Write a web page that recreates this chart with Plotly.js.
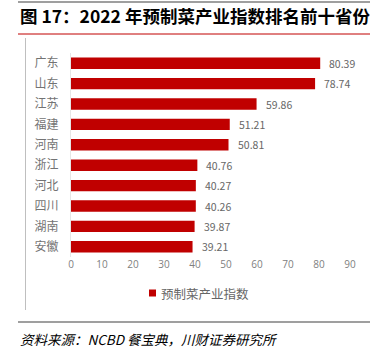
<!DOCTYPE html>
<html><head><meta charset="utf-8">
<script src="https://cdn.plot.ly/plotly-3.0.1.min.js"></script>
<style>html,body{margin:0;padding:0;background:#fff}#c{width:378px;height:354px}</style>
</head><body><div id="c"></div>
<script>
const provinces = ["广东","山东","江苏","福建","河南","浙江","河北","四川","湖南","安徽"];
const indexValues = [80.39,78.74,59.86,51.21,50.81,40.76,40.27,40.26,39.87,39.21];
const xTicks = [0,10,20,30,40,50,60,70,80,90];
const seriesName = "预制菜产业指数";
const titleText = "图 17：2022 年预制菜产业指数排名前十省份";
const sourceText = "资料来源：NCBD 餐宝典，川财证券研究所";

const L=71, R=350, T=53, B=257, W=378, H=354;
const px = x => (x-L)/(R-L);
const py = y => (B-y)/(B-T);
const cjk = '"Noto Sans CJK SC", "Noto Sans", sans-serif';

const trace = {
  type:'bar', orientation:'h', y:provinces, x:indexValues, name:seriesName,
  marker:{color:'#C00000'}, showlegend:false
};
const labelAnns = indexValues.map((v,i)=>({
  xref:'x', yref:'y', x:v, y:provinces[i], xanchor:'left', yanchor:'middle', xshift:7,
  showarrow:false, text:v.toFixed(2), font:{size:10.5, color:'#666', family:cjk}
}));
const layout = {
  width:W, height:H, margin:{l:L, r:W-R, t:T, b:H-B},
  paper_bgcolor:'#fff', plot_bgcolor:'#fff',
  bargap:0.44,
  xaxis:{range:[0,90], tickvals:xTicks, showgrid:false, zeroline:false, showline:false,
    tickfont:{size:10, color:'#808080', family:'"Open Sans", sans-serif'}, ticks:'', fixedrange:true},
  yaxis:{autorange:'reversed', showgrid:false, zeroline:false, showline:true, linecolor:'#e6e6e6', linewidth:1,
    tickfont:{size:12, color:'#737373', family:cjk}, ticks:'', ticklabelstandoff:9},
  showlegend:false,
  shapes:[
    {type:'line', xref:'paper', yref:'paper', x0:px(18), x1:px(370), y0:py(2), y1:py(2), line:{color:'#404040', width:1.2}},
    {type:'line', xref:'paper', yref:'paper', x0:px(18), x1:px(370), y0:py(34), y1:py(34), line:{color:'#C00000', width:1}},
    {type:'line', xref:'paper', yref:'paper', x0:px(25.5), x1:px(25.5), y0:py(38), y1:py(310), line:{color:'#bfbfbf', width:1}},
    {type:'line', xref:'paper', yref:'paper', x0:px(18), x1:px(370), y0:py(322), y1:py(322), line:{color:'#404040', width:1.2}},
    {type:'rect', xref:'paper', yref:'paper', x0:px(149), x1:px(156), y0:py(289.5), y1:py(296.5), fillcolor:'#C00000', line:{width:0}}
  ],
  annotations:[
    {xref:'paper', yref:'paper', x:px(18), y:py(16), xanchor:'left', yanchor:'middle', showarrow:false,
     text:'<b>'+titleText+'</b>', font:{size:17.5, color:'#000', family:cjk}},
    {xref:'paper', yref:'paper', x:px(18), y:py(339), xanchor:'left', yanchor:'middle', showarrow:false,
     text:'<i>'+sourceText+'</i>', font:{size:13.5, color:'#000', family:cjk}},
    {xref:'paper', yref:'paper', x:px(159), y:py(293), xanchor:'left', yanchor:'middle', showarrow:false,
     text:seriesName, font:{size:12.5, color:'#666', family:cjk}}
  ].concat(labelAnns)
};
Plotly.newPlot('c',[trace],layout,{displayModeBar:false, staticPlot:true});
</script></body></html>
